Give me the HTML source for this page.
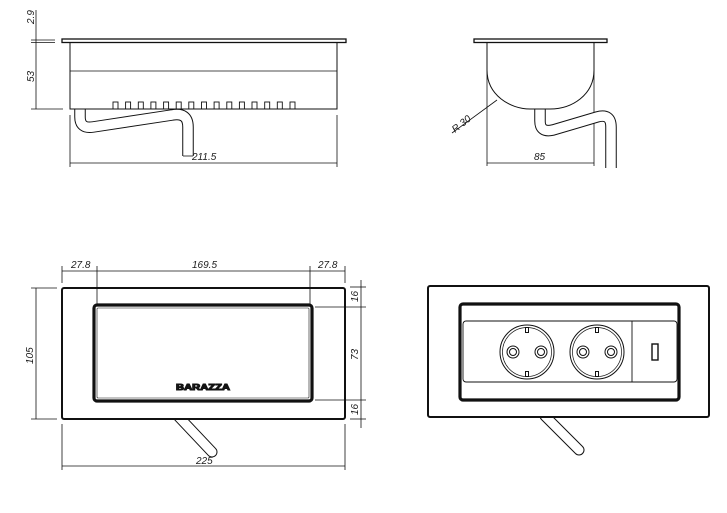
<!DOCTYPE html>
<html><head><meta charset="utf-8"><style>
html,body{margin:0;padding:0;background:#fff;}
svg{display:block;}
text{font-family:"Liberation Sans",sans-serif;font-style:italic;font-size:10px;fill:#1a1a1a;}
</style></head><body>
<svg width="727" height="513" viewBox="0 0 727 513" xmlns="http://www.w3.org/2000/svg">
<g fill="none" stroke="#111" stroke-width="1">
<!-- ===== Side view (top-left) ===== -->
<rect x="62" y="39" width="284" height="3.5" stroke-width="1.3"/>
<rect x="70" y="42.5" width="267" height="66.5"/>
<line x1="70" y1="71" x2="337" y2="71" stroke-width="0.7"/>
<g stroke-width="0.9">
<rect x="113" y="102" width="5" height="7"/><rect x="125.6" y="102" width="5" height="7"/><rect x="138.3" y="102" width="5" height="7"/><rect x="150.9" y="102" width="5" height="7"/><rect x="163.6" y="102" width="5" height="7"/><rect x="176.2" y="102" width="5" height="7"/><rect x="188.8" y="102" width="5" height="7"/><rect x="201.5" y="102" width="5" height="7"/><rect x="214.1" y="102" width="5" height="7"/><rect x="226.8" y="102" width="5" height="7"/><rect x="239.4" y="102" width="5" height="7"/><rect x="252" y="102" width="5" height="7"/><rect x="264.7" y="102" width="5" height="7"/><rect x="277.3" y="102" width="5" height="7"/><rect x="290" y="102" width="5" height="7"/>
</g>
<path d="M80 109 V117 Q80 129 93 127 L172 115 Q188 112 188 127 V156" stroke-width="11.5" stroke-linejoin="round"/>
<path d="M80 109 V117 Q80 129 93 127 L172 115 Q188 112 188 127 V156" stroke="#fff" stroke-width="9.5" stroke-linejoin="round"/>
<line x1="75" y1="109" x2="85" y2="109"/>
<!-- dims -->
<line x1="36" y1="10" x2="36" y2="109" stroke-width="0.8"/>
<line x1="31" y1="40" x2="55" y2="40" stroke-width="0.8"/>
<line x1="31" y1="42.5" x2="55" y2="42.5" stroke-width="0.8"/>
<line x1="31" y1="109" x2="63" y2="109" stroke-width="0.8"/>
<line x1="70" y1="115" x2="70" y2="167" stroke-width="0.8"/>
<line x1="337" y1="115" x2="337" y2="167" stroke-width="0.8"/>
<line x1="70" y1="163" x2="337" y2="163" stroke-width="0.8"/>
<line x1="183" y1="156" x2="193" y2="156" stroke-width="0.8"/>

<!-- ===== End view (top-right) ===== -->
<rect x="474" y="39" width="133" height="3.5" stroke-width="1.3"/>
<path d="M487 42.5 V70 C487 95 510 109 530 109 H550 C572 109 594 95 594 70 V42.5"/>
<line x1="487" y1="70" x2="487" y2="166" stroke-width="0.8"/>
<line x1="594" y1="70" x2="594" y2="166" stroke-width="0.8"/>
<line x1="487" y1="163" x2="594" y2="163" stroke-width="0.8"/>
<line x1="452" y1="133" x2="497" y2="100" stroke-width="0.8"/>
<path d="M540 109 V121 Q540 133 553 130 L597 117 Q611 113 611 127 V168" stroke-width="11.5" stroke-linejoin="round"/>
<path d="M540 109 V121 Q540 133 553 130 L597 117 Q611 113 611 127 V168" stroke="#fff" stroke-width="9.5" stroke-linejoin="round"/>
<line x1="535" y1="109" x2="546" y2="109"/>

<!-- ===== Top view (bottom-left) ===== -->
<path d="M178 416 L212 452" stroke-width="11" stroke-linecap="round"/>
<path d="M178 416 L212 452" stroke="#fff" stroke-width="9" stroke-linecap="round"/>
<rect x="62" y="288" width="283" height="131" rx="2" stroke-width="2" fill="#fff"/>
<rect x="94" y="305" width="218" height="96" rx="3" stroke-width="3.2"/>
<rect x="97" y="308" width="212" height="90" rx="1" stroke-width="0.6"/>
<text x="176" y="390" textLength="54" lengthAdjust="spacingAndGlyphs" style="font-style:normal;font-weight:bold;font-size:8px;fill:#333">BARAZZA</text>
<!-- dims -->
<line x1="62" y1="271" x2="345" y2="271" stroke-width="0.8"/>
<line x1="62" y1="266" x2="62" y2="283" stroke-width="0.8"/>
<line x1="97" y1="266" x2="97" y2="305" stroke-width="0.8"/>
<line x1="310" y1="266" x2="310" y2="305" stroke-width="0.8"/>
<line x1="345" y1="266" x2="345" y2="283" stroke-width="0.8"/>
<line x1="36" y1="288" x2="36" y2="419" stroke-width="0.8"/>
<line x1="31" y1="288" x2="57" y2="288" stroke-width="0.8"/>
<line x1="31" y1="419" x2="57" y2="419" stroke-width="0.8"/>
<line x1="361" y1="280" x2="361" y2="428" stroke-width="0.8"/>
<line x1="350" y1="287" x2="366" y2="287" stroke-width="0.8"/>
<line x1="315" y1="307" x2="366" y2="307" stroke-width="0.8"/>
<line x1="315" y1="400" x2="366" y2="400" stroke-width="0.8"/>
<line x1="350" y1="419" x2="366" y2="419" stroke-width="0.8"/>
<line x1="62" y1="424" x2="62" y2="470" stroke-width="0.8"/>
<line x1="345" y1="424" x2="345" y2="470" stroke-width="0.8"/>
<line x1="62" y1="466" x2="345" y2="466" stroke-width="0.8"/>

<!-- ===== Top view open (bottom-right) ===== -->
<path d="M545 416 L579 450" stroke-width="11" stroke-linecap="round"/>
<path d="M545 416 L579 450" stroke="#fff" stroke-width="9" stroke-linecap="round"/>
<rect x="428" y="286" width="281" height="131" rx="2" stroke-width="2" fill="#fff"/>
<rect x="460" y="304" width="219" height="96" rx="3" stroke-width="3.2"/>
<rect x="463" y="321" width="214" height="61" rx="3" stroke-width="0.9"/>
<line x1="632" y1="321" x2="632" y2="382" stroke-width="0.9"/>
<g stroke-width="1">
<circle cx="527" cy="352" r="27"/><circle cx="527" cy="352" r="24.5" stroke-width="0.7"/>
<circle cx="513" cy="352" r="6"/><circle cx="513" cy="352" r="3.5"/>
<circle cx="541" cy="352" r="6"/><circle cx="541" cy="352" r="3.5"/>
<rect x="525.5" y="327.5" width="3" height="5"/><rect x="525.5" y="371.5" width="3" height="5"/>
<circle cx="597" cy="352" r="27"/><circle cx="597" cy="352" r="24.5" stroke-width="0.7"/>
<circle cx="583" cy="352" r="6"/><circle cx="583" cy="352" r="3.5"/>
<circle cx="611" cy="352" r="6"/><circle cx="611" cy="352" r="3.5"/>
<rect x="595.5" y="327.5" width="3" height="5"/><rect x="595.5" y="371.5" width="3" height="5"/>
<rect x="652" y="344" width="6" height="16" stroke-width="1.4"/>
</g>
</g>
<!-- labels -->
<text transform="translate(34,24) rotate(-90)">2.9</text>
<text transform="translate(34,82) rotate(-90)">53</text>
<text x="192" y="160">211.5</text>
<text x="534" y="160">85</text>
<text transform="translate(455,133) rotate(-38)">R 30</text>
<text x="71" y="268">27.8</text>
<text x="192" y="268">169.5</text>
<text x="318" y="268">27.8</text>
<text transform="translate(33,364) rotate(-90)">105</text>
<text transform="translate(358,302) rotate(-90)">16</text>
<text transform="translate(358,360) rotate(-90)">73</text>
<text transform="translate(358,415) rotate(-90)">16</text>
<text x="196" y="464">225</text>
</svg>
</body></html>
